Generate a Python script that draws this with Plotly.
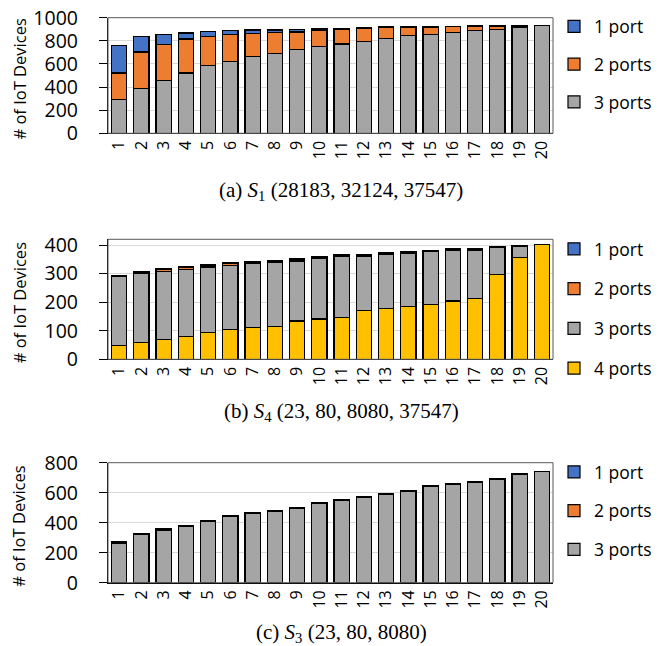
import plotly.graph_objects as go

# ---------------- data ----------------
categories = [str(i) for i in range(1, 21)]

# (a) S1
s1_one_port = [239, 135, 86, 51, 43, 35, 28, 22, 20, 10, 8, 5, 4, 4, 3, 3, 2, 2, 2, 0]
s1_two_ports = [229, 314, 308, 294, 247, 230, 199, 179, 149, 139, 130, 113, 94, 73, 63, 51, 41, 30, 15, 0]
s1_three_ports = [293, 390, 459, 522, 589, 623, 666, 692, 727, 753, 772, 796, 821, 845, 856, 871, 888, 899, 914, 931]

# (b) S4
s4_one_port = [2, 2, 3, 4, 4, 4, 3, 3, 3, 3, 3, 3, 2, 2, 1, 2, 2, 2, 1, 0]
s4_two_ports = [3, 4, 5, 6, 5, 5, 5, 4, 5, 5, 4, 4, 4, 3, 2, 3, 3, 2, 2, 0]
s4_three_ports = [240, 240, 238, 235, 229, 224, 224, 226, 210, 211, 215, 190, 189, 187, 186, 177, 170, 93, 38, 0]
s4_four_ports = [49, 60, 70, 80, 94, 105, 111, 114, 134, 141, 145, 170, 178, 185, 193, 204, 212, 298, 357, 402]

# (c) S3
s3_one_port = [1, 1, 1, 1, 1, 1, 1, 1, 1, 1, 1, 1, 1, 1, 1, 1, 1, 1, 1, 0]
s3_two_ports = [5, 5, 5, 5, 5, 5, 5, 4, 5, 4, 4, 4, 4, 3, 3, 3, 3, 3, 3, 2]
s3_three_ports = [265, 319, 352, 377, 410, 439, 464, 478, 495, 528, 548, 568, 590, 611, 643, 658, 667, 692, 725, 739]

y_ticks_a = [0, 200, 400, 600, 800, 1000]
y_ticks_b = [0, 100, 200, 300, 400]
y_ticks_c = [0, 200, 400, 600, 800]

captions = ["(a) <i>S</i><sub>1</sub> (28183, 32124, 37547)",
            "(b) <i>S</i><sub>4</sub> (23, 80, 8080, 37547)",
            "(c) <i>S</i><sub>3</sub> (23, 80, 8080)"]
y_title = "# of IoT Devices"

# ---------------- styling ----------------
# the page body has an 8px margin, so the figure is drawn 8px in from the window corner
OFF = 8
W, H = 667 - OFF, 646 - OFF
BLUE, ORANGE, GRAY, YELLOW = "#4472C4", "#ED7D31", "#A5A5A5", "#FFC000"
SANS = "Open Sans"
SERIF = "Liberation Serif"
RANK = {"1 port": 1, "2 ports": 2, "3 ports": 3, "4 ports": 4}


def px(x):
    return (x - OFF) / W


def py(y):
    return 1 - (y - OFF) / H


panels = [
    dict(n="", leg="legend", rng=[0, 1000], ticks=y_ticks_a, top=17.7, bot=133.3,
         series=[("3 ports", s1_three_ports, GRAY), ("2 ports", s1_two_ports, ORANGE),
                 ("1 port", s1_one_port, BLUE)],
         legy=8.5, gap=12, cap_y=191),
    dict(n="2", leg="legend2", rng=[0, 420], ticks=y_ticks_b, top=239.3, bot=359.3,
         series=[("4 ports", s4_four_ports, YELLOW), ("3 ports", s4_three_ports, GRAY),
                 ("2 ports", s4_two_ports, ORANGE), ("1 port", s4_one_port, BLUE)],
         legy=231, gap=14, cap_y=412),
    dict(n="3", leg="legend3", rng=[0, 800], ticks=y_ticks_c, top=462.7, bot=582.7,
         series=[("3 ports", s3_three_ports, GRAY), ("2 ports", s3_two_ports, ORANGE),
                 ("1 port", s3_one_port, BLUE)],
         legy=454, gap=13, cap_y=633),
]

X0, X1 = 108, 553

fig = go.Figure()
layout = dict(
    width=W, height=H, margin=dict(l=0, r=0, t=0, b=0, autoexpand=False),
    paper_bgcolor="white", plot_bgcolor="white",
    barmode="stack", bargap=0.32, showlegend=True,
    annotations=[], shapes=[],
)

for i, p in enumerate(panels):
    xa = "x" + p["n"]
    ya = "y" + p["n"]
    for name, vals, col in p["series"]:
        fig.add_trace(go.Bar(
            x=categories, y=vals, name=name, xaxis=xa, yaxis=ya,
            marker=dict(color=col, line=dict(color="black", width=1.2)),
            legend=p["leg"], legendgroup=p["leg"] + name, legendrank=RANK[name],
        ))
    layout["xaxis" + p["n"]] = dict(
        domain=[px(X0), px(X1)], anchor=ya, type="category",
        showline=True, linecolor="black", linewidth=1.3,
        ticks="", tickangle=-90,
        tickfont=dict(family=SANS, size=16, color="black"),
        showgrid=False, fixedrange=True, automargin=False,
        ticklabeloverflow="allow",
    )
    layout["yaxis" + p["n"]] = dict(
        domain=[py(p["bot"]), py(p["top"])], anchor=xa,
        range=p["rng"], tickvals=p["ticks"],
        showline=True, linecolor="black", linewidth=1.3,
        ticks="outside", ticklen=8, tickcolor="black", tickwidth=1.2,
        ticklabelstandoff=17, ticklabeloverflow="allow",
        tickfont=dict(family=SANS, size=19.5, color="black"),
        showgrid=True, gridcolor="#D9D9D9", gridwidth=1,
        zeroline=False, fixedrange=True, automargin=False,
    )
    layout[p["leg"]] = dict(
        x=px(554), xanchor="left", y=py(p["legy"]), yanchor="top",
        traceorder="grouped", tracegroupgap=p["gap"],
        font=dict(family=SANS, size=17.5, color="black"),
        bgcolor="rgba(0,0,0,0)", itemclick=False, itemdoubleclick=False,
    )
    # frame
    layout["shapes"].append(dict(
        type="rect", xref=xa + " domain", yref=ya + " domain",
        x0=0, x1=1, y0=0, y1=1, line=dict(color="#595959", width=1), layer="above",
    ))
    # y title
    layout["annotations"].append(dict(
        text=y_title, textangle=-90, x=px(19), y=py((p["top"] + p["bot"]) / 2 + 4),
        xref="paper", yref="paper", xanchor="center", yanchor="middle", showarrow=False,
        font=dict(family=SANS, size=16.5, color="black"),
    ))
    # caption
    layout["annotations"].append(dict(
        text=captions[i], x=px(341), y=py(p["cap_y"]), xref="paper", yref="paper",
        xanchor="center", yanchor="middle", showarrow=False,
        font=dict(family=SERIF, size=21, color="black"),
    ))

fig.update_layout(**layout)
fig.write_html("out.html")
